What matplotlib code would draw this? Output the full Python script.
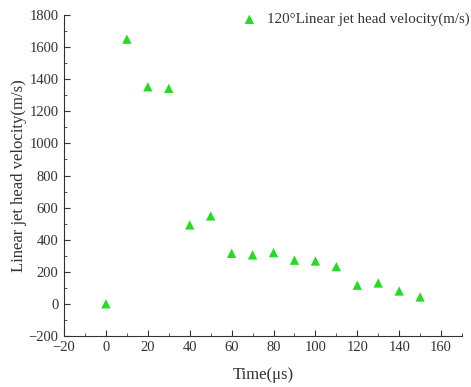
import matplotlib
matplotlib.use("Agg")
import matplotlib.pyplot as plt
from matplotlib.ticker import MultipleLocator

plt.rcParams["font.family"] = ["Liberation Serif", "DejaVu Serif"]

# Jet head velocity vs time
time_us = [0, 10, 20, 30, 40, 50, 60, 70, 80, 90, 100, 110, 120, 130, 140, 150]
velocity = [0, 1650, 1353, 1343, 492, 548, 315, 305, 319, 272, 267, 232, 116, 130, 80, 43]
series_label = "120°Linear jet head velocity(m/s)"

fig = plt.figure(figsize=(4.71, 3.87), dpi=100)
ax = fig.add_axes([0.136, 0.132, 0.845, 0.829])

ax.scatter(time_us, velocity, marker="^", s=45, color="#22dd22",
           edgecolors="none", label=series_label, zorder=3)

ax.set_xlim(-20, 170)
ax.set_ylim(-200, 1800)
ax.xaxis.set_major_locator(MultipleLocator(20))
ax.xaxis.set_minor_locator(MultipleLocator(10))
ax.yaxis.set_major_locator(MultipleLocator(200))
ax.yaxis.set_minor_locator(MultipleLocator(100))
ax.tick_params(which="both", direction="in", color="#333333", labelsize=10.5,
               labelcolor="#333333", pad=4)
ax.tick_params(which="major", length=4)
ax.tick_params(which="minor", length=2.5)

ax.spines["top"].set_visible(False)
ax.spines["right"].set_visible(False)
for s in ("left", "bottom"):
    ax.spines[s].set_color("#333333")

ax.set_xlabel("Time(μs)", fontsize=12, color="#333333", labelpad=9)
ax.set_ylabel("Linear jet head velocity(m/s)", fontsize=12, color="#333333",
              labelpad=1)

ax.legend(loc="upper right", frameon=False, fontsize=10.8, handletextpad=0.2,
          borderaxespad=0, bbox_to_anchor=(1.035, 1.026), labelcolor="#333333")

fig.savefig("out.png", dpi=100)
